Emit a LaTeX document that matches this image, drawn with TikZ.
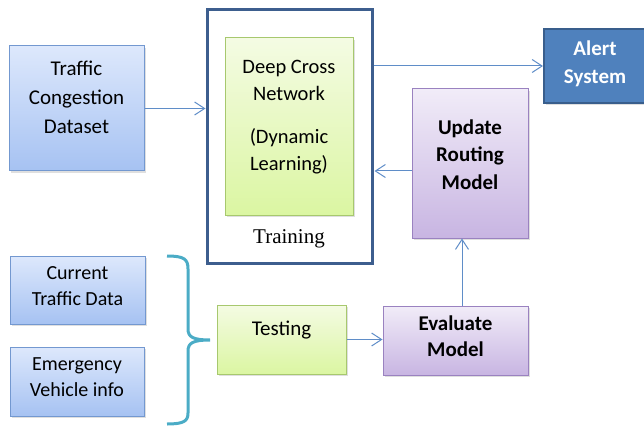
\documentclass[tikz,border=0pt]{standalone}
\usepackage{fontspec}
\setmainfont{Carlito}
\newfontfamily\labelserif{Liberation Serif}
\usepackage{tikz}
\usetikzlibrary{calc,arrows.meta,shadows}

\definecolor{blueTop}{HTML}{DDE8FC}
\definecolor{blueBot}{HTML}{A6C2F2}
\definecolor{blueEdge}{HTML}{7398D0}
\definecolor{greenTop}{HTML}{F4FBE3}
\definecolor{greenBot}{HTML}{DBF6A2}
\definecolor{greenEdge}{HTML}{A7C86E}
\definecolor{purpleTop}{HTML}{F1ECF8}
\definecolor{purpleBot}{HTML}{C8B5E2}
\definecolor{purpleEdge}{HTML}{9A82C0}
\definecolor{alertFill}{HTML}{4F81BD}
\definecolor{alertEdge}{HTML}{395E8C}
\definecolor{frameEdge}{HTML}{3D5E8E}
\definecolor{linkBlue}{HTML}{5F8DC8}
\definecolor{braceTeal}{HTML}{4BACC6}

\tikzset{
  box/.style={draw, line width=1pt, inner sep=0pt,
    drop shadow={shadow xshift=2pt, shadow yshift=-2pt, opacity=0.25}},
  bluebox/.style={box, draw=blueEdge, top color=blueTop, bottom color=blueBot},
  greenbox/.style={box, draw=greenEdge, top color=greenTop, bottom color=greenBot},
  purplebox/.style={box, draw=purpleEdge, top color=purpleTop, bottom color=purpleBot},
  alertbox/.style={box, draw=alertEdge, line width=2pt, fill=alertFill},
  txt/.style={inner sep=0pt, align=center, font=\fontsize{21}{27}\selectfont},
  link/.style={draw=linkBlue, line width=1pt, -{Straight Barb[length=10pt,width=13pt]}},
}

\begin{document}
\begin{tikzpicture}[x=1pt, y=-1pt]
		%%%%% START %%%%%
		\useasboundingbox (0, 0) rectangle (644, 430);
		
		% inputs
		\node[bluebox, minimum width=135pt, minimum height=125pt] (dataset) at (76.5, 108.5) {};
		\node[txt, font=\fontsize{21}{29}\selectfont] (datasettxt) at (76.5, 97) {Traffic\\Congestion\\Dataset};
		
		\node[bluebox, minimum width=135pt, minimum height=68pt] (current) at (77.5, 290) {};
		\node[txt, font=\fontsize{20}{26}\selectfont] (currenttxt) at (77.5, 286) {Current\\Traffic Data};
		
		\node[bluebox, minimum width=134pt, minimum height=69pt] (emergency) at (77, 381.5) {};
		\node[txt, font=\fontsize{20}{26}\selectfont] (emergencytxt) at (77, 377) {Emergency\\Vehicle info};
		
		% training block
		\node[draw=frameEdge, line width=3pt, minimum width=165pt, minimum height=253pt] (frame) at (289.5, 136.5) {};
		\node[greenbox, minimum width=128pt, minimum height=177pt] (dcn) at (289, 126.5) {};
		\node[txt, font=\fontsize{20.5}{26.5}\selectfont] (dcntxt) at (289, 117) {Deep Cross\\Network\\[17pt](Dynamic\\Learning)};
		\node[inner sep=0pt, font=\labelserif\fontsize{21}{25}\selectfont] (traininglbl) at (289, 239) {Training};
		
		% output side
		\node[alertbox, minimum width=102pt, minimum height=74pt] (alert) at (595, 66) {};
		\node[txt, text=white, font=\bfseries\fontsize{21}{28}\selectfont] (alerttxt) at (595, 64) {Alert\\System};
		
		\node[purplebox, minimum width=116pt, minimum height=149pt] (update) at (470, 163.5) {};
		\node[txt, font=\bfseries\fontsize{21}{27.5}\selectfont] (updatetxt) at (470, 154.5) {Update\\Routing\\Model};
		
		\node[greenbox, minimum width=129pt, minimum height=69pt] (testing) at (281.5, 339.5) {};
		\node[txt] (testingtxt) at (281.5, 330) {Testing};
		
		\node[purplebox, minimum width=145pt, minimum height=69pt] (evaluate) at (455.5, 340.5) {};
		\node[txt, font=\bfseries\fontsize{21}{26}\selectfont] (evaluatetxt) at (455.5, 336) {Evaluate\\Model};
		
		% connectors
		\draw[link] (dataset.east) -- (dataset.east -| frame.west);
		\draw[link] (alert.west -| frame.east) -- (alert.west);
		\draw[link] ($(update.west)+(0, 7.5)$) -- ($(update.west -| frame.east)+(1, 7.5)$);
		\draw[link] ($(evaluate.north)+(6.5, 0)$) -- ($(update.south)+(-8, 0)$);
		\draw[link] (testing.east) -- (testing.east -| evaluate.west);
		
		% brace
		\draw[draw=braceTeal, line width=3pt]
			(167, 256) .. controls (184, 256) and (188, 259) .. (188, 269)
			-- (188, 329) .. controls (188, 337) and (193, 340) .. (210, 340)
			.. controls (193, 340) and (188, 343) .. (188, 351)
			-- (188, 413) .. controls (188, 421) and (184, 424) .. (167, 424);
		
		%%%%% END %%%%%
	\end{tikzpicture}
\end{document}
